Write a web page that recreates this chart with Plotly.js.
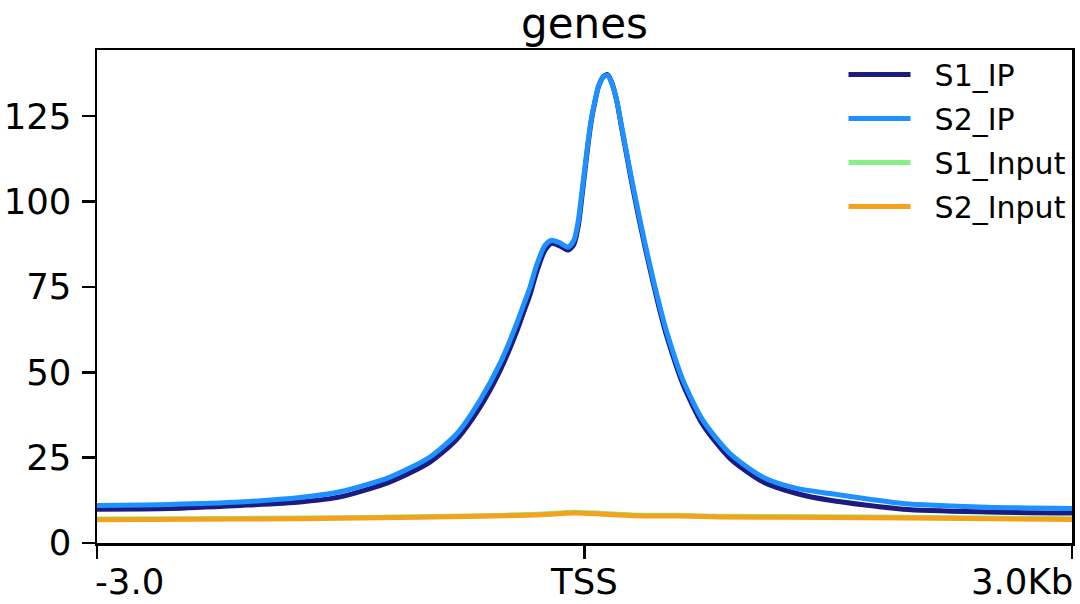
<!DOCTYPE html>
<html>
<head>
<meta charset="utf-8">
<script src="https://cdn.plot.ly/plotly-3.0.1.min.js"></script>
<style>
  html, body { margin: 0; padding: 0; background: #fff; }
  #chart { width: 1080px; height: 604px; }
</style>
</head>
<body>
<div id="chart"></div>
<script>
// positions in kb relative to TSS
let binsKb = [-3.000, -2.551, -2.120, -1.751, -1.505, -1.197, -0.951, -0.786, -0.643, -0.520,
              -0.417, -0.377, -0.335, -0.294, -0.243, -0.202, -0.151, -0.100, -0.065, -0.038,
              -0.017,  0.003,  0.023,  0.044,  0.065,  0.085,  0.116,  0.142,  0.169,  0.198,
               0.229,  0.260,  0.290,  0.331,  0.372,  0.414,  0.444,  0.475,  0.506,  0.606,
               0.729,  0.895,  1.098,  1.306,  1.511,  1.960,  2.477,  3.000];

let s1IP = [9.9, 10.1, 11.0, 12.0, 13.5, 17.9, 23.7, 30.4, 39.8, 50.5,
            62.0, 67.3, 72.8, 79.5, 85.8, 87.8, 87.0, 85.8, 87.5, 93.0,
            101.0, 109.2, 117.2, 124.3, 129.4, 133.5, 136.6, 137.2, 134.7, 129.6,
            121.5, 113.5, 105.7, 96.0, 86.8, 78.0, 71.9, 66.0, 60.6, 46.5,
            34.6, 24.8, 17.9, 14.5, 12.5, 9.9, 9.1, 8.8];

let s2IP = [11.0, 11.3, 12.0, 13.3, 15.0, 19.3, 25.2, 32.0, 41.8, 52.6,
            64.3, 69.5, 75.0, 81.5, 87.2, 88.7, 87.9, 86.7, 88.7, 94.5,
            102.4, 110.2, 118.0, 124.8, 129.7, 133.6, 136.5, 137.0, 134.5, 129.7,
            121.9, 114.1, 106.6, 97.0, 87.8, 79.0, 73.0, 67.2, 61.8, 47.7,
            35.9, 26.2, 19.3, 16.0, 14.5, 11.6, 10.5, 10.1];

let inputKb = [-3.0, -2.12, -1.38, -0.643, -0.3, -0.058, 0.3, 0.588, 0.834, 1.5, 2.5, 3.0];
let s1Input = [7.0, 7.2, 7.5, 8.0, 8.4, 9.0, 8.2, 8.1, 7.8, 7.7, 7.3, 7.1];
let s2Input = [6.8, 7.0, 7.3, 7.8, 8.2, 8.8, 8.0, 7.9, 7.6, 7.5, 7.1, 6.9];

let tickPos = [-3, 0, 3];
let tickLabels = ["-3.0", "TSS", "3.0Kb"];
let tickAnchors = ["left", "center", "right"];
let yTicks = [0, 25, 50, 75, 100, 125];

let font = "DejaVu Sans, Liberation Sans, sans-serif";
let pad = "\u00A0\u00A0";

function lineTrace(name, x, y, color) {
    return {
        x: x,
        y: y,
        name: pad + name,
        type: 'scatter',
        mode: 'lines',
        line: { color: color, width: 5, shape: 'spline', smoothing: 0.7 },
        legendgroup: name
    };
}

let data = [
    lineTrace('S1_IP', binsKb, s1IP, '#1c1c80'),
    lineTrace('S2_IP', binsKb, s2IP, '#1e90ff'),
    lineTrace('S1_Input', inputKb, s1Input, '#88f088'),
    lineTrace('S2_Input', inputKb, s2Input, '#f4a11c')
];

// x tick labels: first left-aligned, last right-aligned (as deeptools does)
let tickAnnotations = tickPos.map((p, i) => ({
    x: p,
    xref: 'x',
    y: 0,
    yref: 'paper',
    yanchor: 'top',
    xanchor: tickAnchors[i],
    yshift: -16,
    xshift: i === 0 ? -4 : (i === 2 ? 3 : -1),
    text: tickLabels[i],
    showarrow: false,
    font: { family: font, size: 35.5, color: '#000' }
}));

let layout = {
    width: 1080,
    height: 604,
    paper_bgcolor: '#ffffff',
    plot_bgcolor: '#ffffff',
    font: { family: font, color: '#000000', size: 34 },
    margin: { l: 97, r: 8, t: 50, b: 61 },
    title: {
        text: 'genes',
        font: { family: font, size: 42, color: '#000000' },
        x: 0.5,
        xref: 'paper',
        y: 0.962,
        yref: 'container',
        yanchor: 'middle'
    },
    showlegend: true,
    legend: {
        x: 0.9995,
        xanchor: 'right',
        y: 1.003,
        yanchor: 'top',
        font: { family: font, size: 30, color: '#000000' },
        bgcolor: 'rgba(0,0,0,0)',
        borderwidth: 0,
        itemwidth: 62,
        traceorder: 'grouped',
        tracegroupgap: 2
    },
    annotations: tickAnnotations,
    xaxis: {
        range: [-3, 3],
        tickmode: 'array',
        tickvals: tickPos,
        showticklabels: false,
        ticks: 'outside',
        ticklen: 13,
        tickwidth: 2.5,
        tickcolor: '#000',
        showline: true,
        linewidth: 2.5,
        linecolor: '#000',
        mirror: true,
        showgrid: false,
        zeroline: false
    },
    yaxis: {
        range: [0, 144.4],
        tickmode: 'array',
        tickvals: yTicks,
        ticks: 'outside',
        ticklen: 13,
        tickwidth: 2.5,
        tickcolor: '#000',
        ticklabelstandoff: 3,
        showline: true,
        linewidth: 2.5,
        linecolor: '#000',
        mirror: true,
        showgrid: false,
        zeroline: false,
        tickfont: { family: font, size: 35.5 }
    }
};

Plotly.newPlot('chart', data, layout, { staticPlot: true });
</script>
</body>
</html>
